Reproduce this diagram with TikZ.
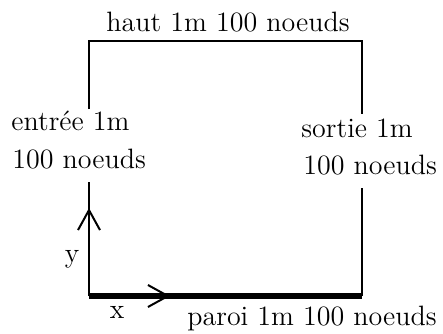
\documentclass[tikz,border=0pt]{standalone}
\usetikzlibrary{arrows.meta,positioning}

\begin{document}
\begin{tikzpicture}[
    x=0.5pt, y=0.5pt,
    every node/.style={font=\fontsize{14}{16}\selectfont, inner sep=0pt},
    label/.style={anchor=base west},
    wall/.style={line width=1.1pt},
    plate/.style={line width=3.2pt},
    axis/.style={-{Straight Barb[length=10pt, width=11pt, line width=1pt]}, line width=1.1pt}
]
\useasboundingbox (0,0) rectangle (443,333);
% corners of the domain
\coordinate (tl) at (89,292);
\coordinate (tr) at (362,292);
\coordinate (bl) at (89,37);
\coordinate (br) at (362,37);
\coordinate (lup) at (89,224);
\coordinate (rup) at (362,219);
\coordinate (llow) at (89,151);
\coordinate (rlow) at (362,145);
\coordinate (ytip) at (89,125);
\coordinate (xtip) at (170,37);
% texts
\node[anchor=base] (haut) at (228,301) {haut 1m 100 noeuds};
\node[label] (entree) at (11,203) {entrée 1m};
\node[label] (entreen) at (12,165) {100 noeuds};
\node[label] (sortie) at (301,196) {sortie 1m};
\node[label] (sortien) at (303,159) {100 noeuds};
\node[anchor=base] (ylab) at (72,71) {y};
\node[anchor=base] (xlab) at (117,15) {x};
\node[label] (paroi) at (187,8) {paroi 1m 100 noeuds};
% boundaries
\draw[wall] (lup) -- (tl) -- (tr) -- (rup);
\draw[wall] (llow) -- (bl);
\draw[wall] (rlow) -- (br);
\draw[plate] (bl) -- (br);
% axes
\draw[axis] (bl) -- (ytip);
\draw[axis] (bl) -- (xtip);
\end{tikzpicture}
\end{document}
